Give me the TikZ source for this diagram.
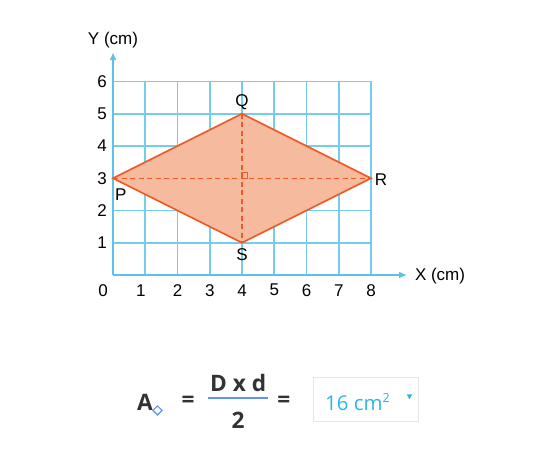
\documentclass[tikz,border=0pt]{standalone}
\usepackage{fontspec}
\setmainfont{Liberation Sans}
\newfontfamily\formulafont{Open Sans}
\usetikzlibrary{arrows.meta,positioning,calc}

\definecolor{gridblue}{HTML}{72CDEE}
\definecolor{axisblue}{HTML}{5CC2EA}
\definecolor{rhombfill}{HTML}{F6BA9E}
\definecolor{rhombline}{HTML}{EE5B26}
\definecolor{answercyan}{HTML}{2BB6E6}
\definecolor{fracblue}{HTML}{5E92EC}
\definecolor{inkgrey}{HTML}{333333}

\tikzset{
  gridline/.style={gridblue,line width=1.6pt},
  axisline/.style={axisblue,line width=1.6pt,-{Latex[length=7pt,width=6pt]}},
  rhomb/.style={fill=rhombfill,draw=rhombline,line width=1.4pt,line join=miter},
  diagline/.style={rhombline,line width=1.3pt,dash pattern=on 4.5pt off 3pt},
  ticklabel/.style={font=\fontsize{15}{17}\selectfont,inner sep=0pt},
  ptlabel/.style={font=\fontsize{15}{17}\selectfont,inner sep=0pt},
  formula/.style={font=\formulafont\bfseries\fontsize{20}{24}\selectfont,text=inkgrey,inner sep=0pt},
}

\begin{document}
\begin{tikzpicture}[>=Latex]
  \useasboundingbox (-3.504,-5.457) rectangle (13.395,8.527);

  % grid
  \foreach \i in {1,...,6}
    \draw[gridline] (0,\i) -- (8,\i);
  \foreach \i in {1,...,8}
    \draw[gridline] (\i,0) -- (\i,6);

  % axes
  \coordinate (O) at (0,0);
  \coordinate (xtip) at (9.12,0);
  \coordinate (ytip) at (0,6.91);
  \draw[axisline] (O) -- (xtip);
  \draw[axisline] (O) -- (ytip);
  \node[ticklabel] (xname) at (10.14,-0.02) {X (cm)};
  \node[ticklabel] (yname) at (0,7.29) {Y (cm)};

  % tick labels
  \node[ticklabel] (x0) at (-0.31,-0.47) {0};
  \node[ticklabel] (x1) at (0.86,-0.47) {1};
  \foreach \i in {2,...,8}
    \node[ticklabel] (x\i) at (\i,-0.47) {\i};
  \foreach \i in {1,...,6}
    \node[ticklabel] (y\i) at (-0.34,\i) {\i};

  % rhombus PQRS
  \coordinate (P) at (0,3);
  \coordinate (Q) at (4,5);
  \coordinate (R) at (8,3);
  \coordinate (S) at (4,1);
  \coordinate (M) at (4,3);
  \draw[rhomb] (P) -- (Q) -- (R) -- (S) -- cycle;
  \draw[diagline] (P) -- (R);
  \draw[diagline] (Q) -- (S);
  \draw[rhombline,line width=0.9pt] (M) rectangle ++(0.17,0.17);

  \node[ptlabel] (lQ) at (4,5.36) {Q};
  \node[ptlabel] (lP) at (0.24,2.5) {P};
  \node[ptlabel] (lR) at (8.31,2.96) {R};
  \node[ptlabel] (lS) at (4,0.62) {S};

  % area formula
  \node[formula] (area) at (0.99,-3.94) {A};
  \node[draw=fracblue,line width=1pt,rotate=45,minimum size=0.2cm,inner sep=0pt] (dmd) at (1.38,-4.2) {};
  \node[formula] (eq1) at (2.33,-3.94) {=};
  \node[formula] (num) at (3.88,-3.35) {D x d};
  \node[formula] (den) at (3.88,-4.50) {2};
  \coordinate (fracl) at (2.95,-3.81);
  \coordinate (fracr) at (4.81,-3.81);
  \draw[fracblue,line width=1.4pt] (fracl) -- (fracr);
  \node[formula] (eq2) at (5.30,-3.94) {=};

  \node[draw=black!10,line width=0.7pt,minimum width=3.26cm,minimum height=1.37cm] (ansbox) at (7.83,-3.845) {};
  \node[font=\formulafont\fontsize{18}{22}\selectfont,text=answercyan,inner sep=0pt] (answer) at (7.58,-3.94)
    {16 cm\raisebox{0.75ex}{\fontsize{11}{12}\selectfont 2}};
  \fill[answercyan] ($(ansbox.east)+(-0.36,0.14)$) -- ++(0.16,0) -- ++(-0.08,-0.15) -- cycle;
\end{tikzpicture}
\end{document}
